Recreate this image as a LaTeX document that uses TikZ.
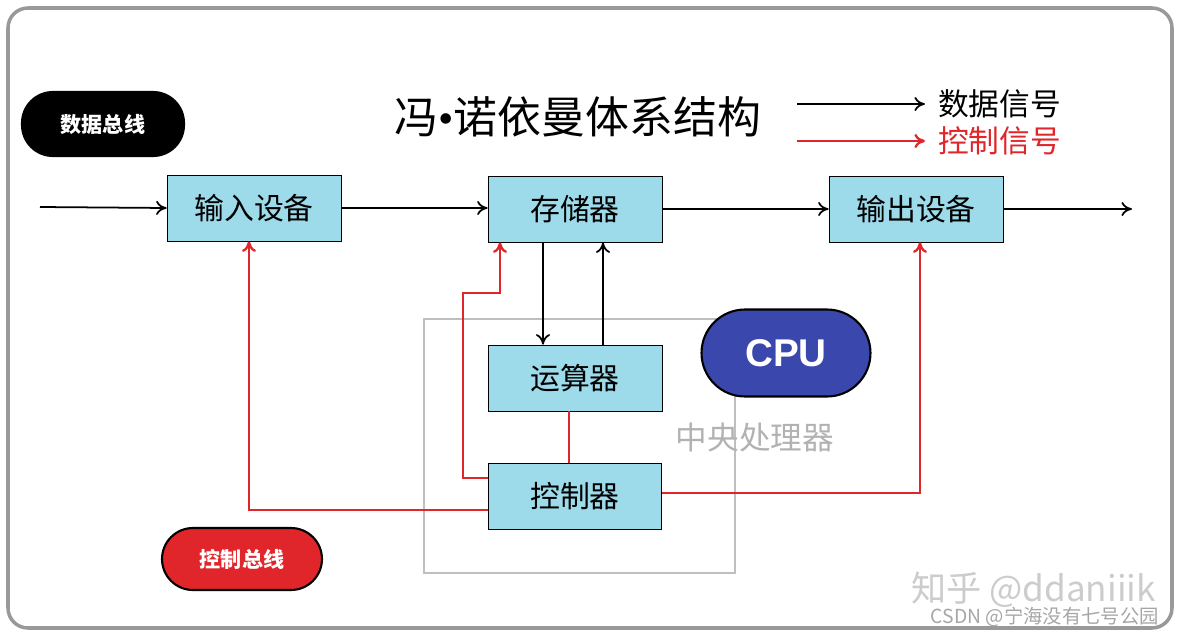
\documentclass[tikz,border=0pt]{standalone}
\usepackage{fontspec}
\setmainfont{Liberation Sans}
\newfontfamily\cjk{Noto Sans CJK SC}
\usetikzlibrary{arrows.meta}
\definecolor{boxblue}{HTML}{9DDAEA}
\definecolor{sigred}{HTML}{E0262B}
\definecolor{cpublue}{HTML}{3A48AE}
\begin{document}
\begin{tikzpicture}[x=0.02cm,y=-0.02cm,
  unit/.style={draw=black,fill=boxblue,minimum width=3.48cm,minimum height=1.32cm,font=\cjk\fontsize{17}{17}\selectfont},
  pill/.style={draw=black,line width=1.2pt,rounded corners=0.62cm,text=white,font=\cjk\bfseries\fontsize{12}{12}\selectfont},
  data/.style={-{To[length=6pt,width=8pt]},line width=1pt,black},
  ctrl/.style={-{To[length=6pt,width=8pt]},line width=1.3pt,sigred}]
\useasboundingbox (0,0) rectangle (1178,636);
\draw[gray!80,line width=2pt,rounded corners=0.4cm] (8,8) rectangle (1172,628);
% CPU frame
\draw[gray!50,line width=1.2pt] (424,319) rectangle (735,573);
% pills
\node[pill,fill=black,minimum width=3.24cm,minimum height=1.28cm] (db) at (103,124) {数据总线};
\node[pill,fill=sigred,minimum width=3.2cm,minimum height=1.24cm] (cb) at (242,559) {控制总线};
\node[pill,fill=cpublue,minimum width=3.38cm,minimum height=1.74cm,rounded corners=0.87cm,font=\bfseries\fontsize{22}{22}\selectfont] (cpu) at (786,353) {CPU};
% title and legend
\node[font=\cjk\fontsize{25}{25}\selectfont] (title) at (578,117) {冯{\fontspec{Liberation Serif}•}诺依曼体系结构};
\coordinate (l1a) at (797,104); \coordinate (l1b) at (925,104);
\coordinate (l2a) at (797,141); \coordinate (l2b) at (925,141);
\draw[data] (l1a) -- (l1b);
\draw[ctrl] (l2a) -- (l2b);
\node[font=\cjk\fontsize{17.5}{17.5}\selectfont,anchor=west] (lg1) at (932,104) {数据信号};
\node[font=\cjk\fontsize{17.5}{17.5}\selectfont,anchor=west,text=sigred] (lg2) at (932,141) {控制信号};
% units
\node[unit] (in) at (254,208) {输入设备};
\node[unit] (mem) at (575,209) {存储器};
\node[unit] (out) at (916,209) {输出设备};
\node[unit] (alu) at (575,378) {运算器};
\node[unit,minimum width=3.46cm] (cu) at (575,496) {控制器};
\node[font=\cjk\fontsize{18}{18}\selectfont,text=gray!60] (cpuname) at (755,437) {中央处理器};
% data paths
\coordinate (src) at (40,207); \coordinate (dst) at (1132,209);
\draw[data] (src) -- (in.west);
\draw[data] (in.east) -- (mem.west |- in.east);
\draw[data] (mem.east) -- (out.west |- mem.east);
\draw[data] (out.east) -- (dst);
\draw[data] (mem.south -| 543,0) -- (alu.north -| 543,0);
\draw[data] (alu.north -| 603,0) -- (mem.south -| 603,0);
% control paths
\draw[line width=1.3pt,sigred] (alu.south -| 569,0) -- (cu.north -| 569,0);
\draw[ctrl] (cu.west |- 0,478) -| (463,293) -| (mem.south -| 500,0);
\draw[ctrl] (cu.west |- 0,510) -| (in.south -| 249,0);
\draw[ctrl] (cu.east |- 0,493) -| (out.south -| 920,0);
% watermark
\node[font=\cjk\fontsize{20}{20}\selectfont,text=gray!40,anchor=west] (wm1) at (905,590) {知乎 @ddaniiik};
\node[font=\cjk\fontsize{11}{11}\selectfont,text=gray!70,anchor=east] (wm2) at (1165,617) {CSDN @宁海没有七号公园};
\end{tikzpicture}
\end{document}
